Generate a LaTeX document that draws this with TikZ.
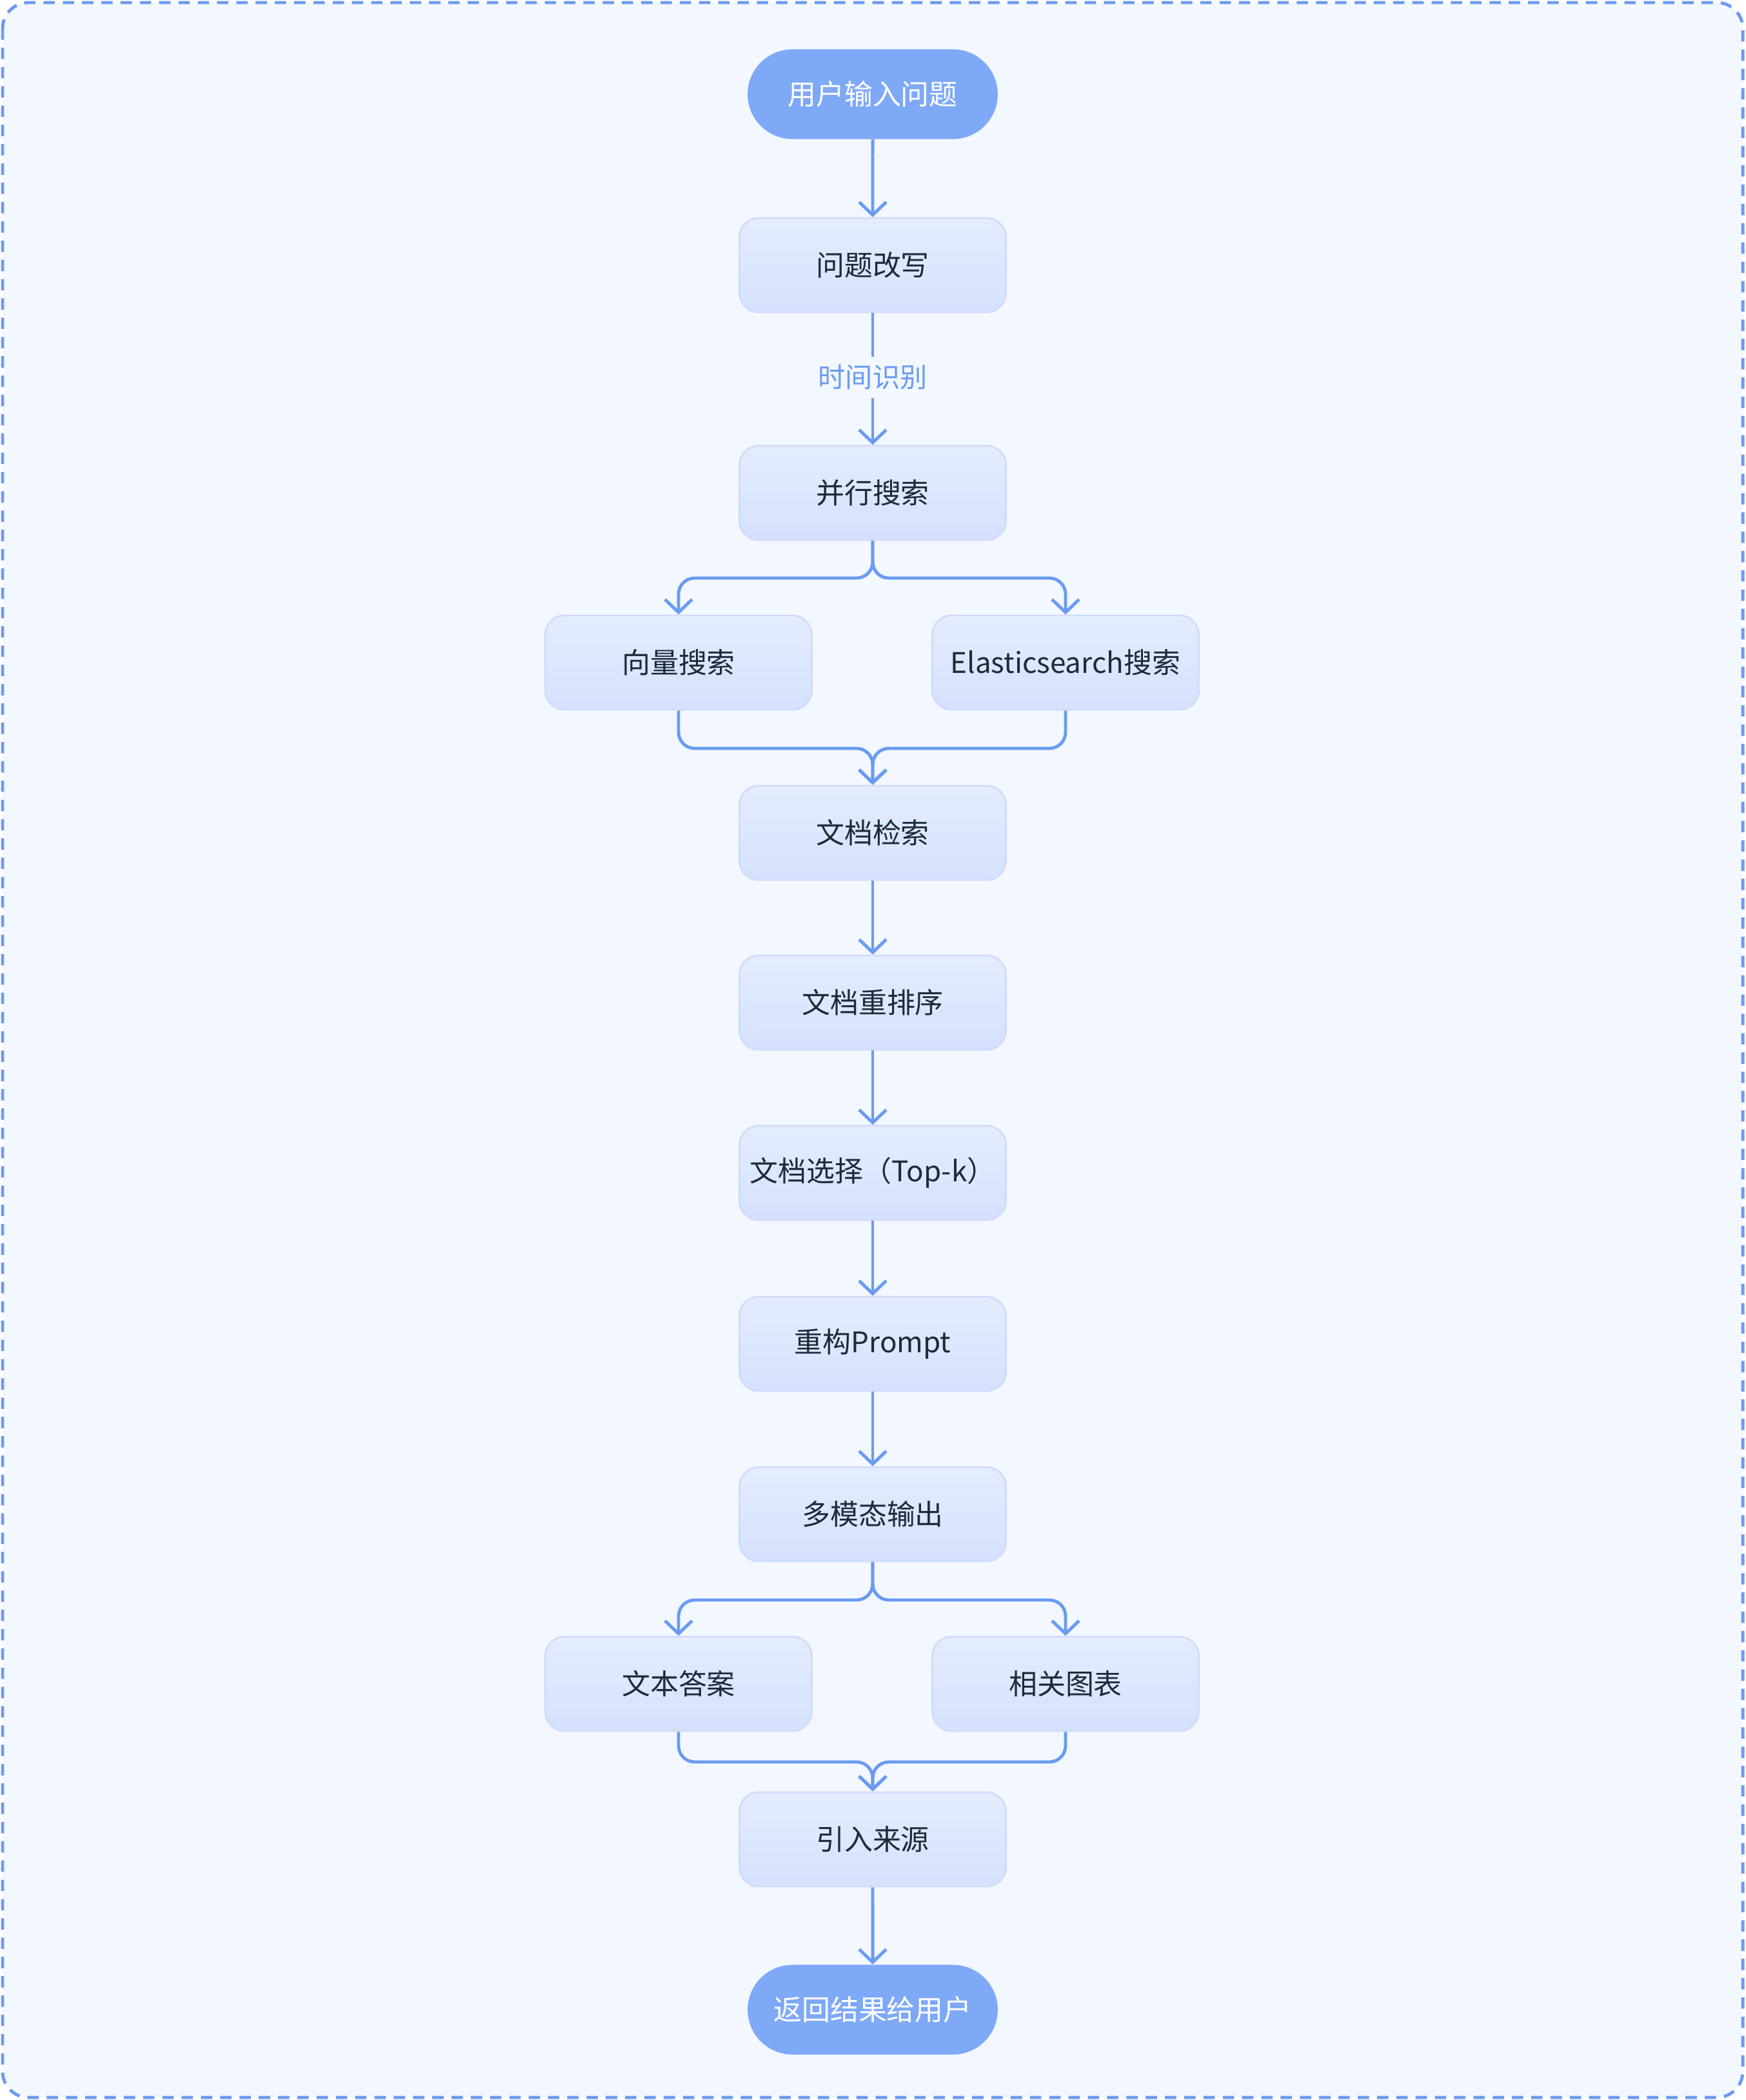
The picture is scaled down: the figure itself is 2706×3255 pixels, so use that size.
\documentclass[tikz,border=0pt]{standalone}
\usepackage{fontspec}
\setmainfont{Noto Sans CJK SC}
\usetikzlibrary{arrows.meta,shapes.misc,positioning}
\definecolor{bgc}{HTML}{F3F7FF}
\definecolor{bord}{HTML}{6E9BF0}
\definecolor{startc}{HTML}{7EA9F7}
\definecolor{topc}{HTML}{E4ECFD}
\definecolor{botc}{HTML}{D5E1FD}
\definecolor{nbord}{HTML}{D0DCFA}
\definecolor{arrc}{HTML}{6A9BF2}
\definecolor{txt}{HTML}{1A2B3A}
\tikzset{
  box/.style={draw=nbord, line width=0.8pt, rounded corners=0.3cm, top color=topc, bottom color=botc,
    minimum width=4.13cm, minimum height=1.46cm, text=txt, font=\fontsize{12.5}{14}\selectfont},
  term/.style={rounded rectangle, fill=startc, minimum width=4.11cm, minimum height=1.39cm,
    text=white, font=\fontsize{12.5}{14}\selectfont},
  arr/.style={draw=arrc, line width=1.4pt, -{Straight Barb[length=0.2cm,width=0.42cm,line width=1.4pt]}},
  ln/.style={draw=arrc, line width=1.4pt},
}
\begin{document}
\begin{tikzpicture}[x=0.01cm,y=-0.01cm]
\useasboundingbox (0,0) rectangle (2706,3255);
\draw[bord, fill=bgc, line width=1.4pt, dash pattern=on 5pt off 3.5pt, rounded corners=0.4cm] (4,4) rectangle (2702,3251);
\node[term] (s) at (1353,146) {用户输入问题};
\node[box] (rw) at (1353,411) {问题改写};
\node[text=arrc, font=\fontsize{12}{14}\selectfont] (tl) at (1353,585) {时间识别};
\node[box] (ps) at (1353,764) {并行搜索};
\node[box] (vs) at (1052,1027) {向量搜索};
\node[box] (es) at (1652,1027) {Elasticsearch搜索};
\node[box] (dr) at (1353,1291) {文档检索};
\node[box] (rr) at (1353,1554) {文档重排序};
\node[box] (sel) at (1353,1818) {文档选择（Top-k）};
\node[box] (pr) at (1353,2083) {重构Prompt};
\node[box] (mm) at (1353,2347) {多模态输出};
\node[box] (ta) at (1052,2610) {文本答案};
\node[box] (ch) at (1652,2610) {相关图表};
\node[box] (src) at (1353,2851) {引入来源};
\node[term] (e) at (1353,3115) {返回结果给用户};
\coordinate (b1) at (1353,896);
\coordinate (j1) at (1353,1160);
\coordinate (b2) at (1353,2480);
\coordinate (j2) at (1353,2731);
\draw[arr] (s) -- (rw);
\draw[ln] (rw) -- (tl);
\draw[arr] (tl) -- (ps);
\draw[arr, rounded corners=0.25cm] (ps) -- (b1) -| (vs);
\draw[arr, rounded corners=0.25cm] (ps) -- (b1) -| (es);
\draw[arr, rounded corners=0.25cm] (vs) |- (j1) -- (dr);
\draw[arr, rounded corners=0.25cm] (es) |- (j1) -- (dr);
\draw[arr] (dr) -- (rr);
\draw[arr] (rr) -- (sel);
\draw[arr] (sel) -- (pr);
\draw[arr] (pr) -- (mm);
\draw[arr, rounded corners=0.25cm] (mm) -- (b2) -| (ta);
\draw[arr, rounded corners=0.25cm] (mm) -- (b2) -| (ch);
\draw[arr, rounded corners=0.25cm] (ta) |- (j2) -- (src);
\draw[arr, rounded corners=0.25cm] (ch) |- (j2) -- (src);
\draw[arr] (src) -- (e);
\end{tikzpicture}
\end{document}
